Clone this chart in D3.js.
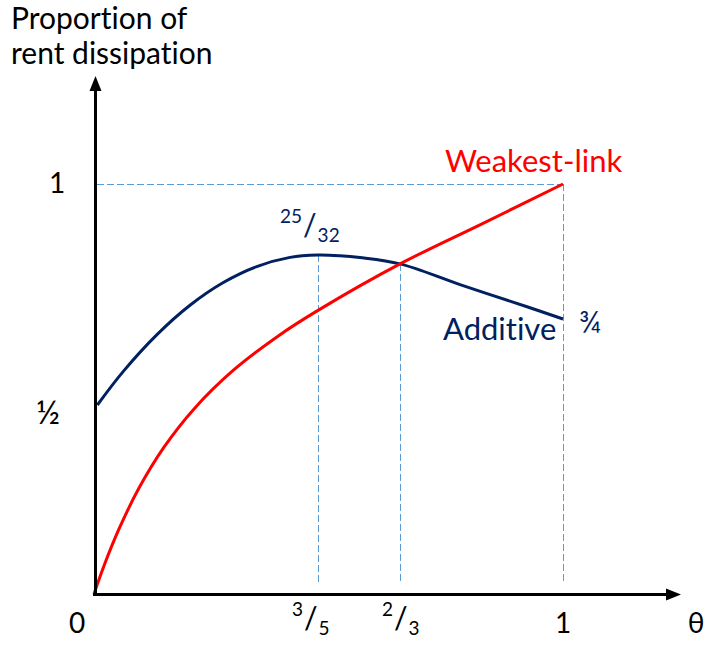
<!DOCTYPE html>
<html>
<head>
<meta charset="utf-8">
<script src="https://cdn.jsdelivr.net/npm/d3@7"></script>
<style>
  body { margin: 0; background: #fff; }
  svg { display: block; font-family: Lato, "Open Sans", sans-serif; font-variant-ligatures: none; }
</style>
</head>
<body>
<svg id="chart" width="707" height="645"></svg>
<script>
// theta ticks on the x axis (schematic, not to scale)
const thetaTicks = [3 / 5, 2 / 3, 1];
const thetaLabels = [["3", "5"], ["2", "3"], ["1"]];

// y ticks
const yTicks = [1 / 2, 1];
const yLabels = ["½", "1"];

// Additive curve (theta, proportion)
const additiveTheta = [0.009, 0.0785, 0.168, 0.2571, 0.3464, 0.4358, 0.525, 0.6, 0.6179, 0.6341, 2 / 3, 0.7894, 0.9264, 1];
const additiveValue = [0.5, 0.5977, 0.7038, 0.7567, 0.7678, 0.7756, 0.7801, 25 / 32, 0.7809, 0.78, 0.7769, 0.7668, 0.756, 0.75];

// Weakest-link curve (theta, proportion)
const weakestTheta = [0, 0.0268, 0.067, 0.1205, 0.1875, 0.2679, 0.375, 0.4955, 0.6, 2 / 3, 0.8344, 1];
const weakestValue = [0, 0.0746, 0.172, 0.2802, 0.3884, 0.4897, 0.6026, 0.7023, 0.7542, 0.7769, 0.8774, 1];

const svg = d3.select("#chart");

// the picture is a sketch, so the scales are piecewise
const x = d3.scaleLinear().domain([0, 3 / 5, 2 / 3, 1]).range([94, 318, 400, 563]);
const y = d3.scaleLinear().domain([0, 1 / 2, 3 / 4, 25 / 32, 1]).range([594, 405, 319, 255, 184]);

const navy = "#002060";
const red = "#ff0000";
const guide = "#5b9bd5";

// Guides (snapped to half pixels so they stay crisp)
const guides = svg.append("g")
    .attr("stroke", guide)
    .attr("stroke-width", 1)
    .attr("stroke-dasharray", "7,3")
    .attr("fill", "none");

guides.append("line")
    .attr("x1", x(0) + 3).attr("x2", x(1))
    .attr("y1", y(1) + 0.5).attr("y2", y(1) + 0.5);

const guideTops = [25 / 32, weakestValue[weakestTheta.indexOf(2 / 3)], 1];
thetaTicks.forEach((t, i) => {
    const gx = Math.round(x(t)) + 0.5;
    guides.append("line")
        .attr("x1", gx).attr("x2", gx)
        .attr("y1", y(guideTops[i])).attr("y2", y(0) - 11);
});

// Curves
const line = d3.line().curve(d3.curveCatmullRom.alpha(0.5));

svg.append("path")
    .attr("d", line(additiveTheta.map((t, i) => [x(t), y(additiveValue[i])])))
    .attr("fill", "none")
    .attr("stroke", navy)
    .attr("stroke-width", 3);

svg.append("path")
    .attr("d", line(weakestTheta.map((t, i) => [x(t), y(weakestValue[i])])))
    .attr("fill", "none")
    .attr("stroke", red)
    .attr("stroke-width", 3);

// Axes with arrows
const axisEndX = 681, axisEndY = 76;
svg.append("line")
    .attr("x1", x(0) - 1).attr("x2", axisEndX - 12)
    .attr("y1", y(0) + 0.5).attr("y2", y(0) + 0.5)
    .attr("stroke", "#000").attr("stroke-width", 3);
svg.append("path")
    .attr("d", `M${axisEndX},${y(0) + 0.5} L${axisEndX - 15},${y(0) - 5.5} L${axisEndX - 15},${y(0) + 6.5} Z`)
    .attr("fill", "#000");

svg.append("line")
    .attr("x1", x(0) + 1.5).attr("x2", x(0) + 1.5)
    .attr("y1", y(0) + 1).attr("y2", axisEndY + 12)
    .attr("stroke", "#000").attr("stroke-width", 3);
svg.append("path")
    .attr("d", `M${x(0) + 1.5},${axisEndY} L${x(0) - 4.5},${axisEndY + 15} L${x(0) + 7.5},${axisEndY + 15} Z`)
    .attr("fill", "#000");

// Fraction like ³/₅ : small numerator, large slash, small denominator
function fraction(g, px, py, num, den, color) {
    const t = g.append("text")
        .attr("x", px).attr("y", py)
        .attr("fill", color);
    t.append("tspan").attr("font-size", 19).attr("dy", -13).text(num);
    t.append("tspan").attr("font-size", 30).attr("dy", 13).attr("dx", 1).text("/");
    t.append("tspan").attr("font-size", 19).attr("dy", 6).attr("dx", 1).text(den);
    return t;
}

// x tick labels
const labels = svg.append("g");
labels.append("text")
    .attr("x", 77).attr("y", 633)
    .attr("text-anchor", "middle")
    .attr("font-size", 28)
    .text("0");

thetaTicks.forEach((t, i) => {
    const lab = thetaLabels[i];
    if (lab.length === 2) {
        fraction(labels, x(t) - 26 + (i === 1 ? 8 : 0), 629, lab[0], lab[1], "#000");
    } else {
        labels.append("text")
            .attr("x", x(t)).attr("y", 633)
            .attr("text-anchor", "middle")
            .attr("font-size", 28)
            .text(lab[0]);
    }
});

labels.append("text")
    .attr("x", 696).attr("y", 633)
    .attr("text-anchor", "middle")
    .attr("font-size", 28)
    .text("θ");

// y tick labels
yTicks.forEach((v, i) => {
    labels.append("text")
        .attr("x", v === 1 ? 57 : 48)
        .attr("y", y(v) + (v === 1 ? 9 : 19))
        .attr("text-anchor", "middle")
        .attr("font-size", v === 1 ? 28 : 33)
        .text(yLabels[i]);
});

// Axis title
const title = svg.append("text")
    .attr("x", 11).attr("y", 29)
    .attr("font-size", 30)
    .attr("fill", "#000");
title.append("tspan").attr("x", 11).text("Proportion of");
title.append("tspan").attr("x", 11).attr("dy", 35).text("rent dissipation");

// Curve annotations
fraction(svg, x(3 / 5) - 38, y(25 / 32) - 19, "25", "32", navy);

svg.append("text")
    .attr("x", x(1) + 16).attr("y", y(3 / 4) + 14)
    .attr("font-size", 30)
    .attr("fill", navy)
    .text("¾");

svg.append("text")
    .attr("x", 443).attr("y", 340)
    .attr("font-size", 31)
    .attr("fill", navy)
    .text("Additive");

svg.append("text")
    .attr("x", 445).attr("y", 172)
    .attr("font-size", 31)
    .attr("fill", red)
    .text("Weakest-link");
</script>
</body>
</html>
